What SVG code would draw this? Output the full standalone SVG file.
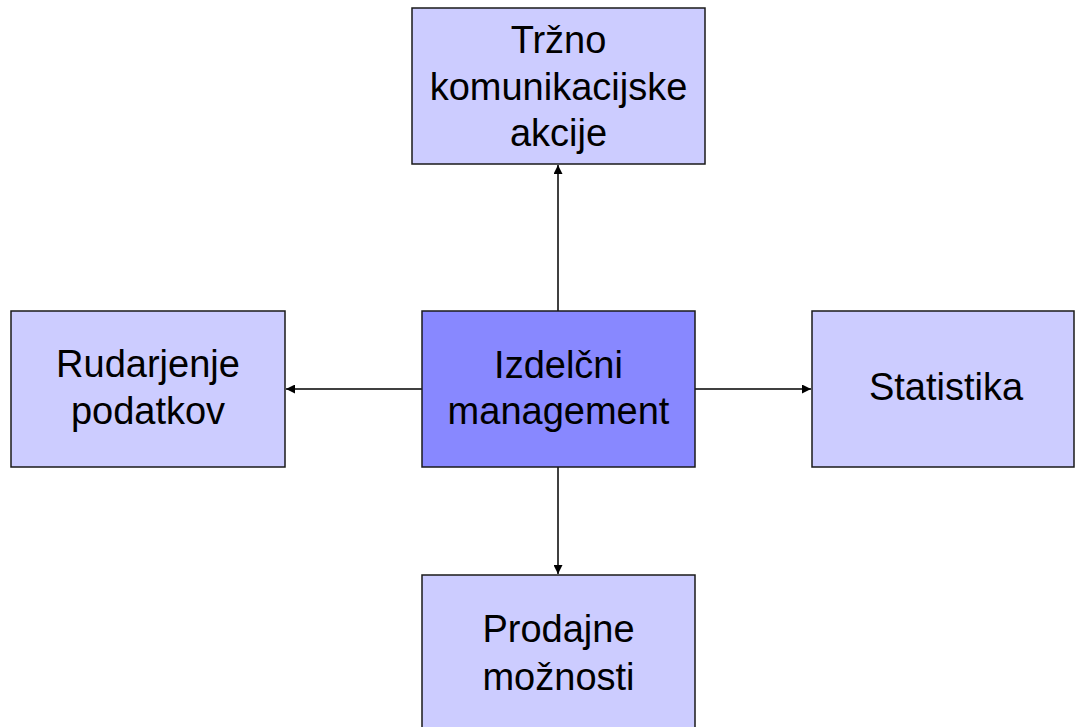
<svg xmlns="http://www.w3.org/2000/svg" width="1076" height="727" viewBox="0 0 1076 727">
  <style>
    .box { fill: #ccccff; stroke: #1a1a1a; stroke-width: 1.5; }
    .hub { fill: #8888ff; stroke: #1a1a1a; stroke-width: 1.5; }
    .lbl { font-family: "Liberation Sans", Arial, sans-serif; font-size: 38px; fill: #000; text-anchor: middle; }
    .link { stroke: #000; stroke-width: 1.5; fill: none; marker-end: url(#head); }
  </style>
  <defs>
    <marker id="head" viewBox="0 0 10 10" refX="10" refY="5" markerWidth="9" markerHeight="9" markerUnits="userSpaceOnUse" orient="auto">
      <path d="M0,0 L10,5 L0,10 Z" fill="#000"/>
    </marker>
  </defs>

  <g id="connectors">
    <line class="link" x1="558" y1="311" x2="558" y2="165"/>
    <line class="link" x1="422" y1="389" x2="286" y2="389"/>
    <line class="link" x1="695" y1="389" x2="811" y2="389"/>
    <line class="link" x1="558" y1="467" x2="558" y2="574"/>
  </g>

  <g id="node-trzno">
    <rect class="box" x="412" y="8" width="293" height="156"/>
    <text class="lbl" x="558.5" y="53">Tržno</text>
    <text class="lbl" x="558.5" y="100">komunikacijske</text>
    <text class="lbl" x="558.5" y="146">akcije</text>
  </g>

  <g id="node-rudarjenje">
    <rect class="box" x="11" y="311" width="274" height="156"/>
    <text class="lbl" x="148" y="377">Rudarjenje</text>
    <text class="lbl" x="148" y="424">podatkov</text>
  </g>

  <g id="node-izdelcni">
    <rect class="hub" x="422" y="311" width="273" height="156"/>
    <text class="lbl" x="558.5" y="378">Izdelčni</text>
    <text class="lbl" x="558.5" y="424">management</text>
  </g>

  <g id="node-statistika">
    <rect class="box" x="812" y="311" width="262" height="156"/>
    <text class="lbl" x="946" y="400">Statistika</text>
  </g>

  <g id="node-prodajne">
    <rect class="box" x="422" y="575" width="273" height="160"/>
    <text class="lbl" x="558.5" y="642">Prodajne</text>
    <text class="lbl" x="558.5" y="690">možnosti</text>
  </g>
</svg>
